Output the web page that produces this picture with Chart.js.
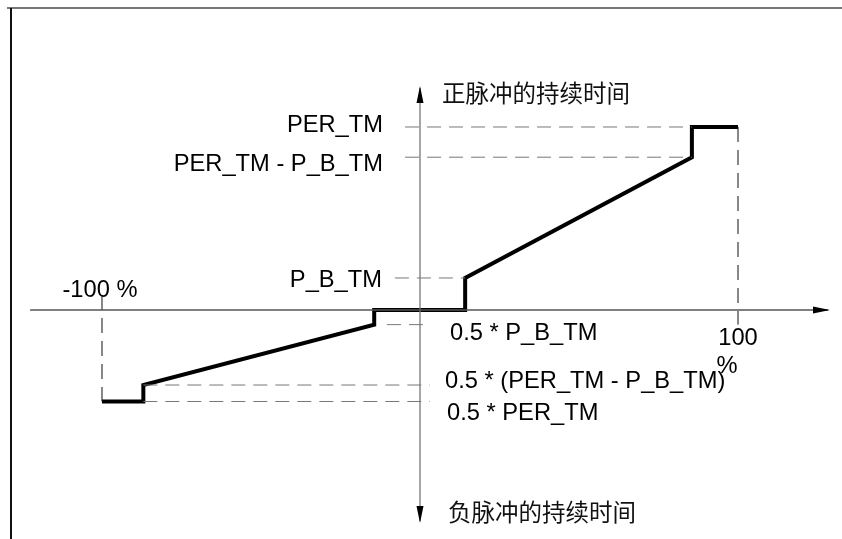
<!DOCTYPE html>
<html>
<head>
<meta charset="utf-8">
<script src="https://cdn.jsdelivr.net/npm/chart.js@4"></script>
<style>
  html, body { margin: 0; padding: 0; background: #fff; }
  #wrap { width: 842px; height: 539px; position: relative; }
</style>
</head>
<body>
<div id="wrap"><canvas id="c" width="842" height="539"></canvas></div>
<script>
// ---- data ----
// x: control signal in %, y: pulse duration (PER_TM = 100)
const lineX = [-100, -87, -87, -14.4, -14.4, 14.2, 14.2, 85.5, 85.5, 100];
const lineY = [-50, -50, -41, -8, 0, 0, 17.5, 83.5, 100, 100];

const levelNames  = ['PER_TM', 'PER_TM - P_B_TM', 'P_B_TM', '0.5 * P_B_TM', '0.5 * (PER_TM - P_B_TM)', '0.5 * PER_TM'];
const levelValues = [100, 83.5, 17.5, -8, -41, -50];
// horizontal extent of the dashed guide for each level [from, to] in x units
const levelFrom   = [-4.7, -4.7, -7.9, -10.4, -87, -87];
const levelTo     = [85.5, 85.5, 14.2, 3.1, 3.1, 3.1];

const xTickValues = [-100, 100];
const xTickLabels = ['-100 %', '100'];
const xGuideFrom  = [8.2, 100];
const xGuideTo    = [-50, -8];

const xAxisRange = [-122.6, 128.3];
const yAxisRange = [-115.3, 121.3];
const yTopTitle = '正脉冲的持续时间';
const yBottomTitle = '负脉冲的持续时间';

// ---- datasets ----
const datasets = [];
// axes
datasets.push({ data: [{x: xAxisRange[0], y: 0}, {x: xAxisRange[1], y: 0}], borderColor: '#555', borderWidth: 1.3 });
datasets.push({ data: [{x: 0, y: yAxisRange[1]}, {x: 0, y: yAxisRange[0]}], borderColor: '#777', borderWidth: 1.3 });
// horizontal guides
levelValues.forEach((v, i) => {
  datasets.push({ data: [{x: levelFrom[i], y: v}, {x: levelTo[i], y: v}], borderColor: '#777', borderWidth: 1, borderDash: [14, 8] });
});
// vertical guides
xTickValues.forEach((v, i) => {
  datasets.push({ data: [{x: v, y: xGuideFrom[i]}, {x: v, y: xGuideTo[i]}], borderColor: '#111', borderWidth: 1, borderDash: [15, 8] });
});
// characteristic line
datasets.push({ data: lineX.map((x, i) => ({x, y: lineY[i]})), borderColor: '#000', borderWidth: 4, borderJoinStyle: 'miter', borderCapStyle: 'butt' });

const LATIN = '23.7px "Liberation Sans", Arial, sans-serif';
const CJK = '23.5px "Noto Sans CJK SC", sans-serif';

const decor = {
  id: 'decor',
  afterDatasetsDraw(chart) {
    const ctx = chart.ctx;
    const xs = chart.scales.x, ys = chart.scales.y;
    const X = v => xs.getPixelForValue(v), Y = v => ys.getPixelForValue(v);
    ctx.save();
    // frame
    ctx.strokeStyle = '#777'; ctx.lineWidth = 2;
    ctx.beginPath(); ctx.moveTo(7, 8); ctx.lineTo(842, 8); ctx.stroke();
    ctx.strokeStyle = '#111'; ctx.lineWidth = 2;
    ctx.beginPath(); ctx.moveTo(11, 8); ctx.lineTo(11, 539); ctx.stroke();
    // arrowheads
    ctx.fillStyle = '#000';
    const xr = X(xAxisRange[1]), y0 = Y(0), x0 = X(0);
    ctx.beginPath(); ctx.moveTo(xr + 2, y0); ctx.lineTo(xr - 15, y0 - 3.5); ctx.lineTo(xr - 15, y0 + 3.5); ctx.closePath(); ctx.fill();
    const yt = Y(yAxisRange[1]);
    ctx.beginPath(); ctx.moveTo(x0, yt - 2); ctx.lineTo(x0 - 3.5, yt + 15); ctx.lineTo(x0 + 3.5, yt + 15); ctx.closePath(); ctx.fill();
    const yb = Y(yAxisRange[0]);
    ctx.beginPath(); ctx.moveTo(x0, yb + 2); ctx.lineTo(x0 - 3.5, yb - 15); ctx.lineTo(x0 + 3.5, yb - 15); ctx.closePath(); ctx.fill();
    // axis titles
    ctx.font = CJK; ctx.fillStyle = '#111'; ctx.textBaseline = 'middle'; ctx.textAlign = 'left';
    ctx.fillText(yTopTitle, x0 + 22, yt + 5);
    ctx.fillText(yBottomTitle, x0 + 28, yb - 9);
    // level labels
    ctx.font = LATIN; ctx.textBaseline = 'alphabetic'; ctx.fillStyle = '#000';
    ctx.textAlign = 'right';
    ctx.fillText(levelNames[0], x0 - 37, Y(levelValues[0]) + 5);
    ctx.fillText(levelNames[1], x0 - 37, Y(levelValues[1]) + 14);
    ctx.fillText(levelNames[2], x0 - 38, Y(levelValues[2]) + 9);
    ctx.textAlign = 'left';
    ctx.fillText(levelNames[3], x0 + 30, Y(levelValues[3]) + 15);
    ctx.fillText(levelNames[4], x0 + 25, Y(levelValues[4]) + 3);
    ctx.fillText(levelNames[5], x0 + 27, Y(levelValues[5]) + 19);
    // x tick labels
    ctx.textAlign = 'center';
    ctx.fillText(xTickLabels[0], X(xTickValues[0]) - 2, y0 - 13);
    ctx.fillText(xTickLabels[1], X(xTickValues[1]), y0 + 35);
    ctx.fillText('%', X(xTickValues[1]) - 11, y0 + 63);
    ctx.restore();
  }
};

new Chart(document.getElementById('c'), {
  type: 'line',
  data: { datasets },
  options: {
    responsive: false,
    animation: false,
    devicePixelRatio: 1,
    layout: { padding: 0 },
    elements: { point: { radius: 0, hoverRadius: 0 }, line: { tension: 0, fill: false } },
    plugins: { legend: { display: false }, tooltip: { enabled: false } },
    events: [],
    scales: {
      x: { type: 'linear', display: false, min: -132.075, max: 132.704 },
      y: { type: 'linear', display: false, min: -125.137, max: 169.399 }
    }
  },
  plugins: [decor]
});
</script>
</body>
</html>
